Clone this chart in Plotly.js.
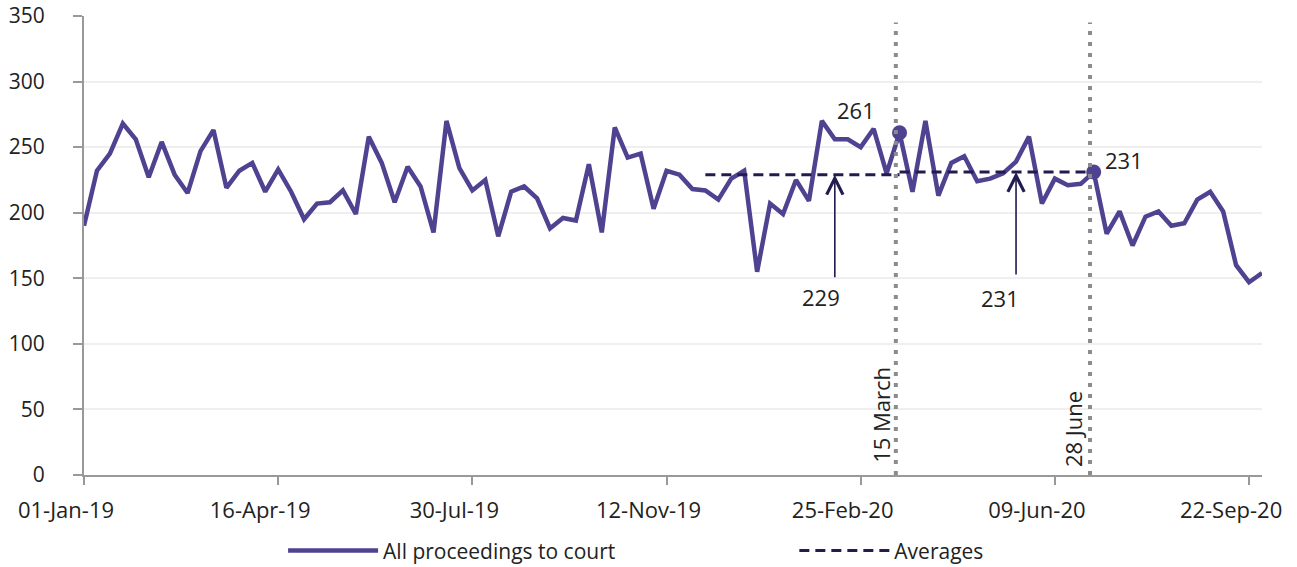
<!DOCTYPE html>
<html>
<head>
<meta charset="utf-8">
<script src="https://cdn.plot.ly/plotly-3.0.1.min.js"></script>
<style>html,body{margin:0;padding:0;background:#fff}#chart{width:1297px;height:567px}</style>
</head>
<body>
<div id="chart"></div>
<script>
// Weekly counts of all proceedings to court, weeks starting 01-Jan-19
var startDate = '2019-01-01';
var proceedings = [
  190, 232, 245, 268, 256, 227, 254, 229, 215, 247,
  263, 219, 232, 238, 216, 233, 216, 195, 207, 208,
  217, 199, 258, 238, 208, 235, 220, 185, 270, 234,
  217, 225, 182, 216, 220, 211, 188, 196, 194, 237,
  185, 265, 242, 245, 203, 232, 229, 218, 217, 210,
  226, 232, 155, 207, 199, 225, 209, 270, 256, 256,
  250, 264, 230, 261, 216, 270, 213, 238, 243, 224,
  226, 230, 239, 258, 207, 226, 221, 222, 231, 184,
  201, 175, 197, 201, 190, 192, 210, 216, 201, 160,
  147, 154
];
// Averages: before 15 March (weeks 48-63) and 15 March to 28 June (weeks 63-78)
var avgStartIdx = [48, 63];
var avgEndIdx = [63, 78];
var avgValues = [229, 231];
var avgLabels = ['229', '231'];
var avgArrowIdx = [58, 72];
// Key dates
var eventDates = ['2020-03-15', '2020-06-28'];
var eventIdx = [63, 78];
var eventLabels = ['15 March', '28 June'];
var eventValueLabels = ['261', '231'];
var tickEveryWeeks = 15;

function addDays(iso, n) {
  var d = new Date(iso + 'T00:00:00Z');
  d.setUTCDate(d.getUTCDate() + n);
  return d.toISOString().slice(0, 10);
}
var dates = proceedings.map(function (_, i) { return addDays(startDate, 7 * i); });

var purple = '#4f4291';
var navy = '#211b4f';
var fontFam = '"Open Sans", "Noto Sans", sans-serif';
var txtSize = 22;

var avgX = [], avgY = [];
for (var k = 0; k < avgValues.length; k++) {
  if (k > 0) { avgX.push(null); avgY.push(null); }
  avgX.push(dates[avgStartIdx[k]], dates[avgEndIdx[k]]);
  avgY.push(avgValues[k], avgValues[k]);
}

var traces = [
  {
    x: dates, y: proceedings, type: 'scatter', mode: 'lines',
    name: 'All proceedings to court', legend: 'legend',
    line: {color: purple, width: 4.5}
  },
  {
    x: avgX, y: avgY, type: 'scatter', mode: 'lines', name: 'Averages', legend: 'legend2',
    line: {color: navy, width: 3, dash: '10px,6px'}, connectgaps: false
  },
  {
    x: eventIdx.map(function (i) { return dates[i]; }),
    y: eventIdx.map(function (i) { return proceedings[i]; }),
    type: 'scatter', mode: 'markers', showlegend: false,
    marker: {color: purple, size: 15}, hoverinfo: 'skip'
  }
];

var shapes = eventDates.map(function (d) {
  return {
    type: 'line', xref: 'x', yref: 'y', x0: d, x1: d, y0: 0, y1: 345,
    line: {color: '#8c8c8c', width: 4, dash: '4px,7px'}, layer: 'above'
  };
});

var annotations = [];
var avgLabelShift = [[-14, -122], [-16, -126]];
for (var a = 0; a < avgValues.length; a++) {
  annotations.push({
    x: dates[avgArrowIdx[a]], y: avgValues[a], xref: 'x', yref: 'y',
    text: '', showarrow: true, ax: 0, ay: 104, axref: 'pixel', ayref: 'pixel',
    arrowhead: 5, arrowsize: 2.0, arrowwidth: 1.6, arrowcolor: navy, standoff: 0
  });
  annotations.push({
    x: dates[avgArrowIdx[a]], y: avgValues[a], xref: 'x', yref: 'y',
    text: avgLabels[a], showarrow: false,
    xshift: avgLabelShift[a][0], yshift: avgLabelShift[a][1],
    font: {family: fontFam, size: txtSize, color: '#222'}
  });
}
var valShift = [[-44, 23], [30, 12]];
var evShift = [[-15, 10], [-17, 6]];
for (var e = 0; e < eventIdx.length; e++) {
  annotations.push({
    x: eventDates[e], y: 0, xref: 'x', yref: 'y',
    text: eventLabels[e], textangle: -90, showarrow: false,
    xanchor: 'center', yanchor: 'bottom', xshift: evShift[e][0], yshift: evShift[e][1],
    font: {family: fontFam, size: txtSize, color: '#222'}
  });
  annotations.push({
    x: dates[eventIdx[e]], y: proceedings[eventIdx[e]], xref: 'x', yref: 'y',
    text: eventValueLabels[e], showarrow: false,
    xshift: valShift[e][0], yshift: valShift[e][1],
    font: {family: fontFam, size: txtSize, color: '#222'}
  });
}

var legendBase = {
  orientation: 'h', xanchor: 'left', yanchor: 'middle', y: -0.165,
  itemwidth: 90, font: {family: fontFam, size: 21, color: '#222'},
  bgcolor: 'rgba(0,0,0,0)'
};
var legend1 = Object.assign({}, legendBase, {x: 0.169});
var legend2 = Object.assign({}, legendBase, {x: 0.603});

var layout = {
  width: 1297, height: 567,
  margin: {l: 84, r: 35, t: 16, b: 92, autoexpand: false},
  paper_bgcolor: '#fff', plot_bgcolor: '#fff',
  font: {family: fontFam, size: txtSize, color: '#222'},
  showlegend: true,
  legend: legend1,
  legend2: legend2,
  xaxis: {
    type: 'date', range: [dates[0], dates[dates.length - 1]],
    tick0: startDate, dtick: tickEveryWeeks * 7 * 86400000,
    tickformat: '%d-%b-%y', ticks: 'outside', ticklen: 8, tickwidth: 2,
    tickcolor: '#999', showline: true, linecolor: '#999', linewidth: 2,
    showgrid: false, zeroline: false, ticklabelstandoff: 7, ticklabelshift: -18,
    ticklabeloverflow: 'allow',
    tickfont: {size: txtSize, color: '#222'}, automargin: false
  },
  yaxis: {
    range: [0, 350], dtick: 50, tick0: 0, ticks: 'outside', ticklen: 9, tickwidth: 2,
    tickcolor: '#999', showline: true, linecolor: '#999', linewidth: 2,
    showgrid: true, gridcolor: '#efefef', gridwidth: 2, zeroline: false,
    ticklabelstandoff: 24, ticklabeloverflow: 'allow',
    tickfont: {size: 21, color: '#222'}, automargin: false
  },
  shapes: shapes,
  annotations: annotations
};

Plotly.newPlot('chart', traces, layout, {displayModeBar: false, staticPlot: true});
</script>
</body>
</html>
